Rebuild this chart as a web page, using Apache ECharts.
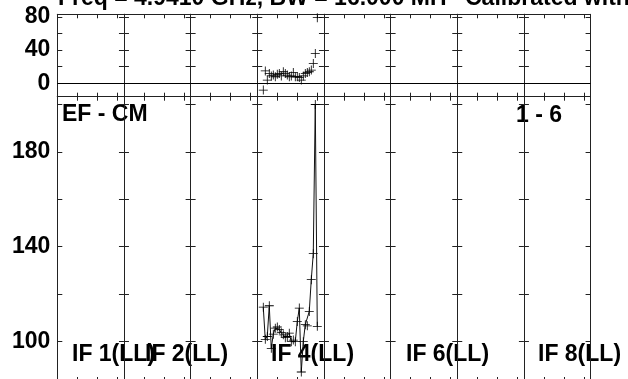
<!DOCTYPE html>
<html>
<head>
<meta charset="utf-8">
<script src="https://cdn.jsdelivr.net/npm/echarts@6/dist/echarts.min.js"></script>
<style>
  html, body { margin: 0; padding: 0; background: #fff; }
  #chart { width: 628px; height: 379px; }
</style>
</head>
<body>
<div id="chart"></div>
<script>
// channels that have data (only IF 4 is plotted)
var if4Channels = [3,4,5,6,7,8,9,10,11,12,13,14,15,16,17,18,19,20,21,22,23,24,25,26,27,28,29,30];
// top panel: phase (deg)
var if4Phase = [-8,15,4,12,9,10,8,11,12,9,14,12,10,8,9,13,8,8,7,4,9,12,13,14,16,24,36,79];
// bottom panel: amplitude
var if4Amp = [114.4,100.8,102,115,97,103,105.5,106,105,103.6,102.7,101.5,102,103.4,99.8,100.5,99.8,108.3,114,87,99.8,107,106.5,112.6,126,137,200,106.3];

var phaseTicks = [0,20,40,60,80];
var phaseLabels = [0,40,80];
var ampTicks = [100,120,140,160,180,200];
var ampLabels = [100,140,180];
var chanTicks = [10,20,30];

var titleText = 'Freq = 4.9410 GHz, BW = 16.000 MH';
var titleText2 = 'Calibrated with';
var baseName = 'EF - CM';
var pageName = '1 - 6';
var ifLabels = ['IF 1(LL)','IF 2(LL)','IF 4(LL)','IF 6(LL)','IF 8(LL)'];
var ifLabelX = [72, 145, 271, 406, 538];

var nIF = 8;
var x0 = 57.3, pw = 66.66;
var font = 'Liberation Sans';
var fs = 23;

var myChart = echarts.init(document.getElementById('chart'));

var grids = [], xAxes = [], yAxes = [], series = [];

function xPair(gi) {
	var base = {
		gridIndex: gi, type: 'value', min: 0, max: 33.33,
		axisLine: { show: true, onZero: false, lineStyle: { color: '#222', width: 1 } },
		axisTick: { show: true, inside: true, length: 4, customValues: chanTicks, lineStyle: { color: '#222' } },
		axisLabel: { show: false },
		splitLine: { show: false }
	};
	xAxes.push(Object.assign({ position: 'bottom' }, base));
	xAxes.push(Object.assign({ position: 'top' }, base));
}

function yPair(gi, min, max, ticks, labels, showLabel, pad) {
	var base = {
		gridIndex: gi, type: 'value', min: min, max: max,
		axisLine: { show: true, onZero: false, lineStyle: { color: '#222', width: 1 } },
		axisTick: { show: true, inside: true, length: 5, customValues: ticks, lineStyle: { color: '#222' } },
		splitLine: { show: false }
	};
	yAxes.push(Object.assign({ position: 'left',
		axisLabel: { show: showLabel, customValues: labels, color: '#000', fontFamily: font,
			fontWeight: 'bold', fontSize: fs, margin: 7, padding: [pad, 0, 0, 0] } }, base));
	yAxes.push(Object.assign({ position: 'right', axisLabel: { show: false } }, base));
}

var cross = 'path://M0,4.55 H10 V5.45 H0 Z M4.55,0 H5.45 V10 H4.55 Z';

for (var r = 0; r < 2; r++) {
	for (var i = 0; i < nIF; i++) {
		var gi = r * nIF + i;
		grids.push({
			left: x0 + i * pw, width: pw,
			top: r === 0 ? 14.3 : 96.7,
			height: r === 0 ? 82.4 : 284.3,
			outerBoundsMode: 'none'
		});
		xPair(gi);
		if (r === 0) yPair(gi, -16, 83, phaseTicks, phaseLabels, i === 0, 5);
		else yPair(gi, 83.2, 203.3, ampTicks, ampLabels, i === 0, 2);

		var d = [];
		if (i === 3) {
			for (var k = 0; k < if4Channels.length; k++) {
				d.push([if4Channels[k], r === 0 ? if4Phase[k] : if4Amp[k]]);
			}
		}
		var s = {
			type: 'line',
			xAxisIndex: gi * 2, yAxisIndex: gi * 2,
			data: d,
			symbol: cross, symbolSize: 9, showSymbol: true,
			itemStyle: { color: '#000' },
			lineStyle: r === 0 ? { width: 0, opacity: 0 } : { color: '#111', width: 1 },
			silent: true
		};
		if (r === 0) {
			s.markLine = {
				symbol: 'none', silent: true, label: { show: false },
				lineStyle: { color: '#000', type: 'solid', width: 1 },
				data: [{ yAxis: 0 }]
			};
		}
		series.push(s);
	}
}

var txt = function (t, x, y) {
	return { type: 'text', x: x, y: y, silent: true,
		style: { text: t, fill: '#000', fontFamily: font, fontWeight: 'bold', fontSize: fs,
			align: 'left', verticalAlign: 'middle' } };
};

var graphics = [
	txt(titleText, 58, -1),
	txt(titleText2, 465, -1),
	txt(baseName, 62, 115),
	txt(pageName, 516, 116)
];
for (var j = 0; j < ifLabels.length; j++) {
	graphics.push(txt(ifLabels[j], ifLabelX[j], 355));
}

option = {
	backgroundColor: '#fff',
	animation: false,
	grid: grids,
	xAxis: xAxes,
	yAxis: yAxes,
	series: series,
	graphic: graphics
};
myChart.setOption(option);
</script>
</body>
</html>
